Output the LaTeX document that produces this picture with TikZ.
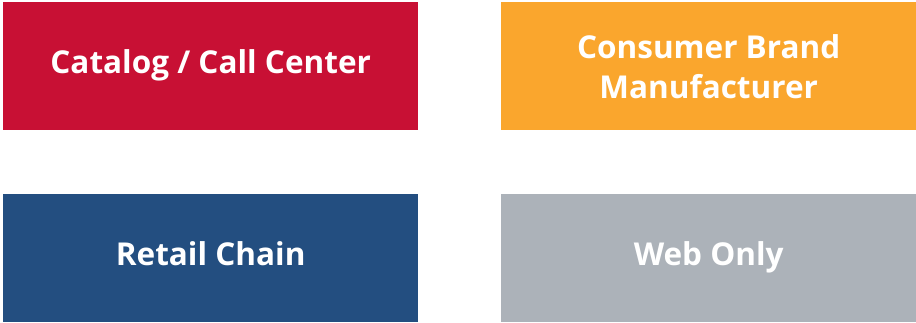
\documentclass[tikz,border=0pt]{standalone}
\usepackage{fontspec}
\setmainfont{Open Sans}
\definecolor{cred}{RGB}{200,16,52}
\definecolor{corange}{RGB}{250,166,45}
\definecolor{cblue}{RGB}{35,78,128}
\definecolor{cgrey}{RGB}{172,178,185}
\begin{document}
\begin{tikzpicture}[x=1pt,y=-1pt,
  card/.style={draw=none,minimum width=415pt,minimum height=128pt,inner sep=0pt,
    text=white,font=\fontsize{31.5}{40}\selectfont\bfseries,align=center,anchor=north west},
  oneline/.style={text depth=10pt}]
\useasboundingbox (0,0) rectangle (916,322);
\node[card,oneline,fill=cred] (cat) at (3,2) {Catalog / Call Center};
\node[card,fill=corange] (con) at (501,2) {Consumer Brand\\Manufacturer};
\node[card,oneline,fill=cblue] (ret) at (3,194) {Retail Chain};
\node[card,oneline,fill=cgrey] (web) at (501,194) {Web Only};
\end{tikzpicture}
\end{document}
